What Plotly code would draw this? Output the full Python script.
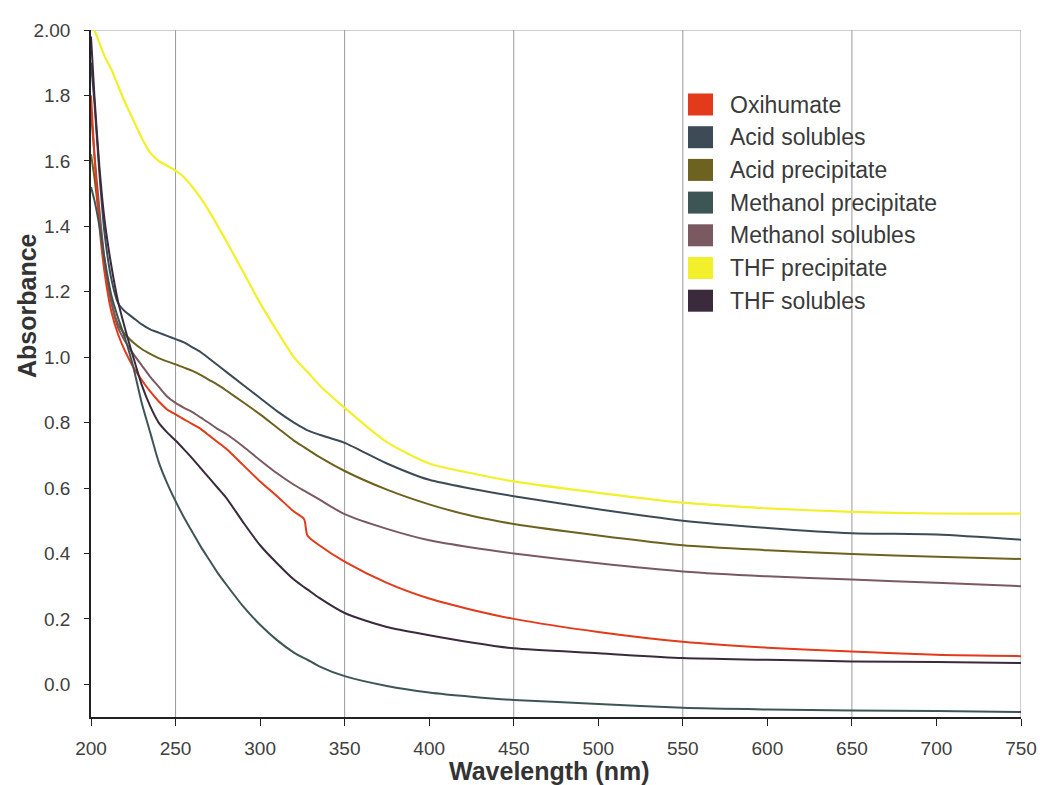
import plotly.graph_objects as go

# Wavelength grid (nm) shared by all spectra
wavelength = [200, 202, 205, 208, 212, 216, 220, 225, 230, 235, 240, 245, 250, 255, 260,
              265, 270, 275, 280, 290, 300, 310, 320, 326, 328, 335, 350, 375, 400, 425,
              450, 500, 550, 600, 650, 700, 750]

oxihumate = [1.80, 1.62, 1.40, 1.26, 1.14, 1.07, 1.02, 0.97, 0.93, 0.895, 0.865, 0.84,
             0.825, 0.81, 0.795, 0.78, 0.76, 0.74, 0.72, 0.67, 0.62, 0.575, 0.528, 0.505,
             0.455, 0.425, 0.375, 0.31, 0.262, 0.228, 0.20, 0.16, 0.13, 0.112, 0.10,
             0.09, 0.086]
acid_solubles = [1.90, 1.78, 1.56, 1.38, 1.24, 1.165, 1.14, 1.12, 1.10, 1.085, 1.075,
                 1.065, 1.055, 1.045, 1.03, 1.015, 0.995, 0.975, 0.955, 0.915, 0.875,
                 0.835, 0.80, 0.782, 0.776, 0.763, 0.738, 0.675, 0.625, 0.598, 0.575,
                 0.535, 0.50, 0.478, 0.462, 0.458, 0.442]
acid_precipitate = [1.62, 1.55, 1.42, 1.29, 1.17, 1.10, 1.07, 1.045, 1.025, 1.01, 0.997,
                    0.987, 0.978, 0.968, 0.958, 0.945, 0.93, 0.915, 0.898, 0.862, 0.825,
                    0.785, 0.745, 0.725, 0.718, 0.695, 0.652, 0.595, 0.55, 0.515, 0.49,
                    0.455, 0.425, 0.41, 0.398, 0.39, 0.383]
methanol_precipitate = [1.52, 1.48, 1.40, 1.30, 1.19, 1.12, 1.06, 0.97, 0.86, 0.77, 0.68,
                        0.615, 0.56, 0.51, 0.465, 0.42, 0.38, 0.34, 0.305, 0.238, 0.182,
                        0.135, 0.097, 0.08, 0.075, 0.055, 0.025, -0.005, -0.025, -0.038,
                        -0.048, -0.06, -0.072, -0.077, -0.08, -0.082, -0.085]
methanol_solubles = [1.75, 1.62, 1.45, 1.30, 1.17, 1.09, 1.05, 1.01, 0.975, 0.94, 0.91,
                     0.88, 0.86, 0.845, 0.832, 0.815, 0.798, 0.78, 0.765, 0.727, 0.685,
                     0.645, 0.61, 0.592, 0.586, 0.565, 0.52, 0.475, 0.44, 0.418, 0.40,
                     0.37, 0.345, 0.33, 0.32, 0.31, 0.30]
thf_precipitate = [2.02, 2.00, 1.96, 1.92, 1.88, 1.83, 1.78, 1.725, 1.67, 1.625, 1.60,
                   1.585, 1.57, 1.55, 1.52, 1.485, 1.445, 1.40, 1.355, 1.26, 1.165, 1.08,
                   1.00, 0.965, 0.955, 0.915, 0.845, 0.74, 0.675, 0.645, 0.62, 0.585,
                   0.555, 0.538, 0.527, 0.522, 0.522]
thf_solubles = [1.98, 1.80, 1.58, 1.42, 1.28, 1.17, 1.09, 1.00, 0.915, 0.85, 0.80, 0.77,
                0.745, 0.718, 0.69, 0.66, 0.63, 0.60, 0.57, 0.495, 0.425, 0.37, 0.32,
                0.297, 0.29, 0.264, 0.218, 0.175, 0.15, 0.128, 0.11, 0.095, 0.08, 0.075,
                0.07, 0.068, 0.065]

series_names = ["Oxihumate", "Acid solubles", "Acid precipitate", "Methanol precipitate",
                "Methanol solubles", "THF precipitate", "THF solubles"]
series_values = [oxihumate, acid_solubles, acid_precipitate, methanol_precipitate,
                 methanol_solubles, thf_precipitate, thf_solubles]
series_colors = ["#e23a1a", "#3c4b55", "#6e6220", "#3d5655", "#7a5a60", "#f2f02a",
                 "#3a2a3c"]

x_ticks = [200, 250, 300, 350, 400, 450, 500, 550, 600, 650, 700, 750]
grid_wavelengths = [250, 350, 450, 550, 650, 750]
y_ticks = [0.0, 0.2, 0.4, 0.6, 0.8, 1.0, 1.2, 1.4, 1.6, 1.8, 2.0]
y_tick_text = ["0.0", "0.2", "0.4", "0.6", "0.8", "1.0", "1.2", "1.4", "1.6", "1.8", "2.00"]

W, H = 1040, 785
L, R, T, B = 91, 19, 30, 68
FONT = "Liberation Sans, Arial, sans-serif"


def px(xp):
    return (xp - L) / (W - L - R)


def py(yp):
    return (H - B - yp) / (H - T - B)


fig = go.Figure()

# Draw yellow first so the darker spectra sit over it
order = [5, 1, 2, 4, 0, 6, 3]
for i in order:
    fig.add_trace(go.Scatter(
        x=wavelength, y=series_values[i], name=series_names[i], mode="lines",
        line=dict(color=series_colors[i], width=2.2 if i == 5 else 2,
                  shape="spline", smoothing=0.7),
        showlegend=False,
    ))

shapes = []
# vertical grid lines every 100 nm starting at 250
for g in grid_wavelengths:
    shapes.append(dict(type="line", xref="x", yref="paper", x0=g, x1=g, y0=0, y1=1,
                       line=dict(color="#9a9a9a", width=1), layer="below"))
# top frame line
shapes.append(dict(type="line", xref="paper", yref="y", x0=0, x1=1, y0=2.0, y1=2.0,
                   line=dict(color="#a0a0a0", width=1), layer="below"))

annotations = []
# legend with square swatches
row0, row_step = 104.5, 32.7
for k, name in enumerate(series_names):
    yc = row0 + k * row_step
    shapes.append(dict(type="rect", xref="paper", yref="paper",
                       x0=px(688), x1=px(713), y0=py(yc + 11), y1=py(yc - 11),
                       fillcolor=series_colors[k], line=dict(width=0)))
    annotations.append(dict(xref="paper", yref="paper", x=px(728), y=py(yc),
                            xanchor="left", yanchor="middle", showarrow=False,
                            text=name, font=dict(family=FONT, size=23, color="#3a3a3a")))

annotations.append(dict(xref="paper", yref="paper", x=px(549), y=py(771),
                        xanchor="center", yanchor="middle", showarrow=False,
                        text="<b>Wavelength (nm)</b>",
                        font=dict(family=FONT, size=25, color="#333333")))
annotations.append(dict(xref="paper", yref="paper", x=px(27), y=py(306),
                        xanchor="center", yanchor="middle", showarrow=False,
                        textangle=-90, text="<b>Absorbance</b>",
                        font=dict(family=FONT, size=25, color="#333333")))

fig.update_layout(
    width=W, height=H,
    margin=dict(l=L, r=R, t=T, b=B, autoexpand=False),
    paper_bgcolor="white", plot_bgcolor="white",
    shapes=shapes, annotations=annotations,
    showlegend=False,
    xaxis=dict(range=[200, 750], tickvals=x_ticks, showgrid=False, zeroline=False,
               automargin=False,
               showline=True, linecolor="#222222", linewidth=1.5,
               ticks="outside", ticklen=7, tickcolor="#222222",
               ticklabelstandoff=6,
               tickfont=dict(family=FONT, size=19, color="#404040")),
    yaxis=dict(range=[-0.1, 2.0], tickvals=y_ticks, ticktext=y_tick_text,
               showgrid=False, zeroline=False, automargin=False,
               showline=True, linecolor="#222222", linewidth=1.5,
               ticks="outside", ticklen=5, tickcolor="#222222",
               ticklabelstandoff=10,
               tickfont=dict(family=FONT, size=19, color="#404040")),
)

fig.write_html("out.html")
